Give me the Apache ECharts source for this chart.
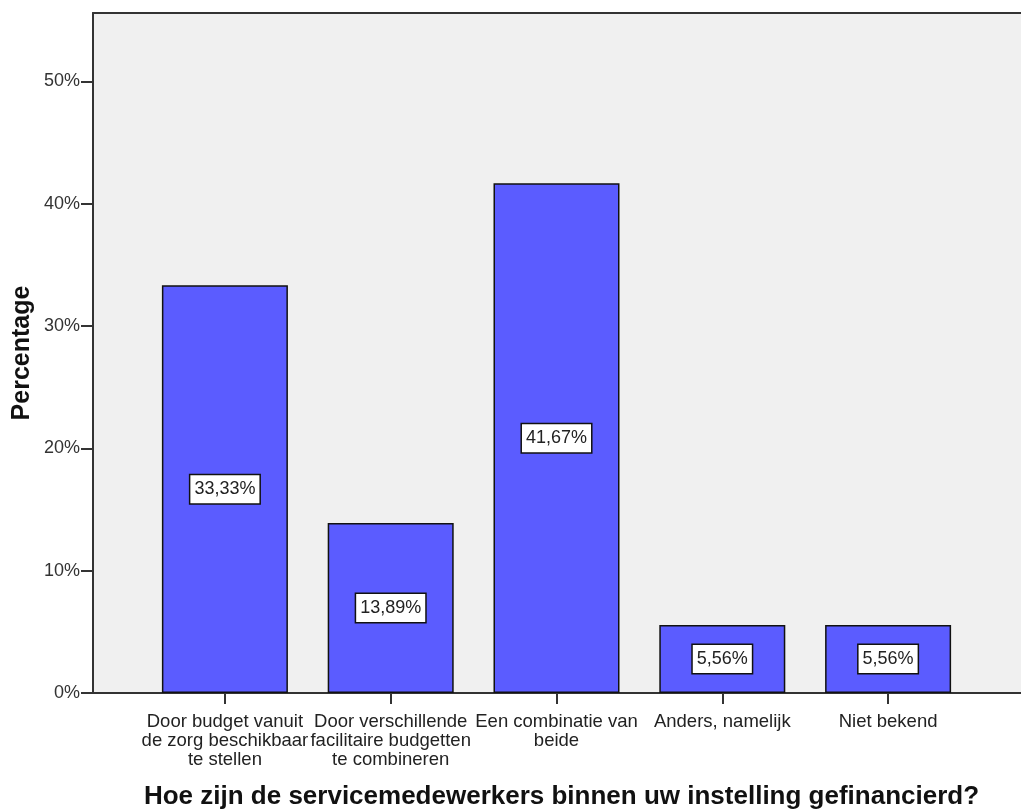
<!DOCTYPE html>
<html>
<head>
<meta charset="utf-8">
<script src="https://cdn.jsdelivr.net/npm/echarts@6/dist/echarts.min.js"></script>
<style>
  html, body { margin: 0; padding: 0; background: #ffffff; }
  #chart { width: 1021px; height: 809px; }
</style>
</head>
<body>
<div id="chart"></div>
<script>
// Answer categories (x axis)
const categories = [
  'Door budget vanuit\nde zorg beschikbaar\nte stellen',
  'Door verschillende\nfacilitaire budgetten\nte combineren',
  'Een combinatie van\nbeide',
  'Anders, namelijk',
  'Niet bekend'
];
// Share of respondents per answer, in percent
const percentages = [33.33, 13.89, 41.67, 5.56, 5.56];
// Y axis ticks
const yTicks = [0, 10, 20, 30, 40, 50];
const yMax = 55.6;

const xTitle = 'Hoe zijn de servicemedewerkers binnen uw instelling gefinancierd?';
const yTitle = 'Percentage';

const FONT = '"Liberation Sans", Arial, Helvetica, sans-serif';
const AXIS_COLOR = '#333333';

const chart = echarts.init(document.getElementById('chart'), null, { renderer: 'canvas' });

const fmtPct = v => v.toFixed(2).replace('.', ',') + '%';

chart.setOption({
  animation: false,
  backgroundColor: '#ffffff',
  grid: [
    // plot frame with grey background
    { left: 93, right: 0, top: 13, bottom: 116, show: true, backgroundColor: '#f0f0f0', borderWidth: 0,
      containLabel: false, outerBoundsMode: 'none' },
    // inner band where the bars sit
    { left: 142, right: 50, top: 13, bottom: 116, containLabel: false, outerBoundsMode: 'none' }
  ],
  xAxis: [
    {
      gridIndex: 0, type: 'value', min: 0, max: 1, position: 'bottom',
      axisLine: { show: true, lineStyle: { color: AXIS_COLOR, width: 2 } },
      axisTick: { show: false }, axisLabel: { show: false }, splitLine: { show: false },
      name: xTitle, nameLocation: 'middle', nameGap: 91,
      nameTextStyle: { fontFamily: FONT, fontSize: 26, fontWeight: 'bold', color: '#111111', padding: [0, 0, 0, 9] }
    },
    {
      gridIndex: 1, type: 'category', data: categories, position: 'bottom',
      axisLine: { show: false },
      axisTick: { show: true, alignWithLabel: true, length: 11, lineStyle: { color: AXIS_COLOR, width: 2 } },
      axisLabel: { interval: 0, margin: 19, fontFamily: FONT, fontSize: 18.5, lineHeight: 19, color: '#222222' },
      splitLine: { show: false }
    },
    {
      // top edge of the frame
      gridIndex: 0, type: 'value', min: 0, max: 1, position: 'top',
      axisLine: { show: true, lineStyle: { color: AXIS_COLOR, width: 2 } },
      axisTick: { show: false }, axisLabel: { show: false }, splitLine: { show: false }
    }
  ],
  yAxis: [
    {
      gridIndex: 0, type: 'value', min: yTicks[0], max: yMax, interval: yTicks[1] - yTicks[0],
      axisLine: { show: true, lineStyle: { color: AXIS_COLOR, width: 2 } },
      axisTick: { show: true, length: 12, customValues: yTicks, lineStyle: { color: AXIS_COLOR, width: 2 } },
      axisLabel: {
        margin: 13, fontFamily: FONT, fontSize: 18, color: '#333333',
        customValues: yTicks,
        formatter: v => v + '%'
      },
      splitLine: { show: false }
    },
    {
      // bar scale; carries the axis title only
      gridIndex: 1, type: 'value', min: yTicks[0], max: yMax,
      axisLine: { show: false }, axisTick: { show: false }, axisLabel: { show: false }, splitLine: { show: false },
      name: yTitle, nameLocation: 'middle', nameGap: 107, nameRotate: 90,
      nameTextStyle: { fontFamily: FONT, fontSize: 25, fontWeight: 'bold', color: '#111111' }
    }
  ],
  series: [
    {
      type: 'bar',
      xAxisIndex: 1, yAxisIndex: 1,
      data: percentages,
      barWidth: '76%',
      itemStyle: { color: '#5b5cff', borderColor: '#111111', borderWidth: 1.5 },
      label: {
        show: true, position: 'inside',
        formatter: p => fmtPct(p.value),
        fontFamily: FONT, fontSize: 18, color: '#222222',
        backgroundColor: '#ffffff', borderColor: '#111111', borderWidth: 1.5,
        padding: [6, 4, 4, 4]
      }
    }
  ]
});
</script>
</body>
</html>
